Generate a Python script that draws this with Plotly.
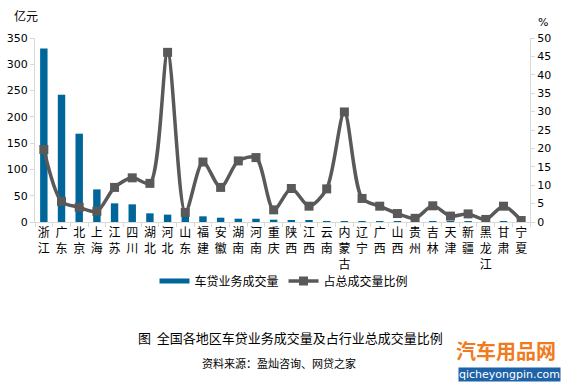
import plotly.graph_objects as go

regions = ["浙江", "广东", "北京", "上海", "江苏", "四川", "湖北", "河北", "山东", "福建",
           "安徽", "湖南", "河南", "重庆", "陕西", "江西", "云南", "内蒙古", "辽宁", "广西",
           "山西", "贵州", "吉林", "天津", "新疆", "黑龙江", "甘肃", "宁夏"]
volume = [330, 242, 168, 62, 35.5, 33.6, 16.5, 14, 12, 10.8,
          8.2, 6.3, 6.2, 4.4, 2.5, 2.2, 0.4, 0.3, 0.3, 0.3,
          0.2, 0.2, 0.2, 0.2, 0.2, 0.1, 0.1, 0.1]
ratio = [19.7, 5.6, 4.0, 2.9, 9.4, 12.0, 10.5, 46.1, 2.6, 16.3,
         9.4, 16.6, 17.5, 3.3, 9.1, 4.3, 9.0, 29.9, 6.4, 4.3,
         2.3, 1.0, 4.4, 1.6, 2.2, 0.7, 4.3, 0.4]
left_ticks = [0, 50, 100, 150, 200, 250, 300, 350]
right_ticks = [0, 5, 10, 15, 20, 25, 30, 35, 40, 45, 50]

labels = ["<br>".join(list(r)) for r in regions]

cjk = "Noto Sans CJK SC"
num_font = "DejaVu Sans"

W, H = 564, 386
L, R, T, B = 35, 34, 38, 164
PW, PH = W - L - R, H - T - B


def px(x):
    return (x - L) / PW


def py(y):
    return (H - B - y) / PH


fig = go.Figure()
fig.add_trace(go.Bar(
    x=labels, y=volume, name="车贷业务成交量", showlegend=False,
    marker=dict(color="#006699", line=dict(width=0)),
    width=0.42, yaxis="y",
))
# legend entry for the bars drawn as a wide swatch (no data)
fig.add_trace(go.Scatter(
    x=[None], y=[None], name="车贷业务成交量", mode="lines",
    line=dict(color="#006699", width=5), yaxis="y",
))
fig.add_trace(go.Scatter(
    x=labels, y=ratio, name="占总成交量比例", yaxis="y2",
    mode="lines+markers", line=dict(color="#595959", width=3.5, shape="spline", smoothing=0.8),
    marker=dict(symbol="square", size=9, color="#595959"),
))

fig.update_layout(
    width=W, height=H,
    margin=dict(l=L, r=R, t=T, b=B, autoexpand=False),
    paper_bgcolor="white", plot_bgcolor="white",
    showlegend=True,
    legend=dict(orientation="h", x=px(284), xanchor="center", y=py(281), yanchor="middle",
                font=dict(family=cjk, size=12, color="#000"), itemwidth=30,
                tracegroupgap=0, bgcolor="rgba(0,0,0,0)"),
    xaxis=dict(type="category", range=[-0.5, len(regions) - 0.5], automargin=False,
               showline=True, linecolor="#d9d9d9", linewidth=1,
               ticks="outside", tickson="boundaries", ticklen=4, tickcolor="#d9d9d9",
               tickfont=dict(family=cjk, size=12, color="#000"), tickangle=0,
               showgrid=False),
    yaxis=dict(range=[0, 350], tickvals=left_ticks, showgrid=False, zeroline=False,
               automargin=False,
               showline=True, linecolor="#d9d9d9", linewidth=1,
               ticks="outside", ticklen=4, tickcolor="#d9d9d9",
               tickfont=dict(family=num_font, size=11, color="#000")),
    yaxis2=dict(range=[0, 50], tickvals=right_ticks, overlaying="y", side="right",
                showgrid=False, zeroline=False, automargin=False,
                showline=True, linecolor="#d9d9d9", linewidth=1,
                ticks="outside", ticklen=4, tickcolor="#d9d9d9",
                tickfont=dict(family=num_font, size=11, color="#000")),
    annotations=[
        dict(text="亿元", xref="paper", yref="paper", x=px(12), y=py(16), xanchor="left",
             yanchor="middle", showarrow=False, font=dict(family=cjk, size=12, color="#000")),
        dict(text="%", xref="paper", yref="paper", x=px(536), y=py(22), xanchor="left",
             yanchor="middle", showarrow=False, font=dict(family=num_font, size=11, color="#000")),
        dict(text="图  全国各地区车贷业务成交量及占行业总成交量比例", xref="paper", yref="paper",
             x=px(290), y=py(337), xanchor="center", yanchor="middle", showarrow=False,
             font=dict(family=cjk, size=13, color="#000")),
        dict(text="资料来源：盈灿咨询、网贷之家", xref="paper", yref="paper",
             x=px(279), y=py(363), xanchor="center", yanchor="middle", showarrow=False,
             font=dict(family=cjk, size=11, color="#000")),
        dict(text="<b>汽车用品网</b>", xref="paper", yref="paper",
             x=px(558), y=py(350), xanchor="right", yanchor="middle", showarrow=False,
             font=dict(family=cjk, size=20, color="#f07a20")),
        dict(text="qicheyongpin.com", xref="paper", yref="paper",
             x=px(561), y=py(374), xanchor="right", yanchor="middle", showarrow=False,
             bgcolor="#1e63a8", borderpad=0,
             font=dict(family="DejaVu Sans", size=11, color="#ffffff")),
    ],
)

fig.write_html("out.html", config={"displayModeBar": False},
               post_script="document.body.style.margin='0';")
